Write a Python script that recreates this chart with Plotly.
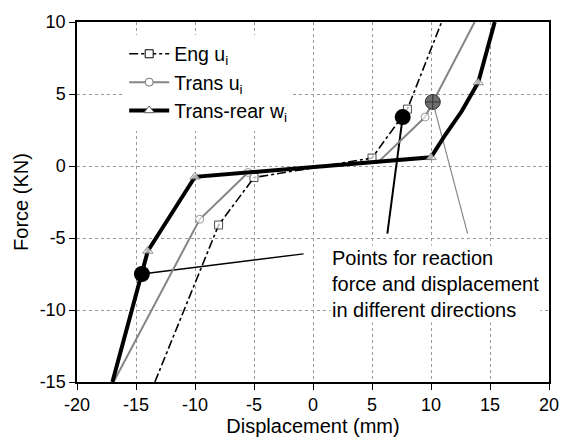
import plotly.graph_objects as go

# Data
eng_x = [-13.4, -8.0, -5.0, 5.0, 8.0, 10.9]
eng_y = [-15.0, -4.1, -0.8, 0.55, 3.95, 10.0]
eng_ms = [0, 8, 8, 8, 8, 0]

trans_x = [-16.9, -9.6, -5.5, 5.5, 9.5, 13.7]
trans_y = [-15.0, -3.7, -0.45, 0.25, 3.4, 10.0]
trans_ms = [0, 8, 8, 0, 8, 0]

rear_x = [-17.0, -14.0, -10.0, 10.0, 11.2, 12.6, 14.0, 14.6, 15.4]
rear_y = [-15.0, -5.9, -0.75, 0.6, 2.15, 3.8, 5.8, 7.6, 10.0]
rear_ms = [0, 9, 9, 9, 0, 0, 9, 0, 0]

# Reaction points
pts_x = [-14.5, 7.6]
pts_y = [-7.5, 3.4]
hatch_x = [10.15]
hatch_y = [4.45]

# Callout leader lines
lead1_x = [-14.5, -0.8]
lead1_y = [-7.5, -6.1]
lead2_x = [7.6, 6.3]
lead2_y = [3.4, -4.7]
lead3_x = [10.15, 13.1]
lead3_y = [4.45, -4.7]

x_ticks = [-20, -15, -10, -5, 0, 5, 10, 15, 20]
x_labels = ["-20", "-15", "-10", "-5", "0", "5", "10", "15", "20"]
y_ticks = [-15, -10, -5, 0, 5, 10]
y_labels = ["-15", "-10", "-5", "0", "5", "10"]

FONT = "Liberation Sans, Arial, sans-serif"

fig = go.Figure()

fig.add_trace(go.Scatter(x=lead1_x, y=lead1_y, mode="lines",
                         line=dict(color="black", width=1.4), showlegend=False))
fig.add_trace(go.Scatter(x=lead2_x, y=lead2_y, mode="lines",
                         line=dict(color="black", width=2), showlegend=False))
fig.add_trace(go.Scatter(x=lead3_x, y=lead3_y, mode="lines",
                         line=dict(color="#888888", width=1.2), showlegend=False))

fig.add_trace(go.Scatter(x=eng_x, y=eng_y, mode="lines+markers",
                         line=dict(color="black", width=1.6, dash="dashdot"),
                         marker=dict(symbol="square", size=eng_ms, color="white",
                                     line=dict(color="black", width=1)),
                         showlegend=False))
fig.add_trace(go.Scatter(x=trans_x, y=trans_y, mode="lines+markers",
                         line=dict(color="#858585", width=2),
                         marker=dict(symbol="circle", size=trans_ms, color="white",
                                     line=dict(color="#707070", width=1)),
                         showlegend=False))
fig.add_trace(go.Scatter(x=rear_x, y=rear_y, mode="lines+markers",
                         line=dict(color="black", width=4),
                         marker=dict(symbol="triangle-up", size=rear_ms, color="white",
                                     line=dict(color="#606060", width=1)),
                         showlegend=False))

# legend entries
fig.add_trace(go.Scatter(x=[None], y=[None], mode="lines+markers", name="Eng u<sub>i</sub>",
                         line=dict(color="black", width=1.6, dash="dashdot"),
                         marker=dict(symbol="square", size=8, color="white",
                                     line=dict(color="black", width=1))))
fig.add_trace(go.Scatter(x=[None], y=[None], mode="lines+markers", name="Trans u<sub>i</sub>",
                         line=dict(color="#858585", width=2),
                         marker=dict(symbol="circle", size=8, color="white",
                                     line=dict(color="#707070", width=1))))
fig.add_trace(go.Scatter(x=[None], y=[None], mode="lines+markers", name="Trans-rear w<sub>i</sub>",
                         line=dict(color="black", width=4),
                         marker=dict(symbol="triangle-up", size=9, color="white",
                                     line=dict(color="#606060", width=1))))

fig.add_trace(go.Scatter(x=pts_x, y=pts_y, mode="markers",
                         marker=dict(symbol="circle", size=16, color="black"),
                         showlegend=False))
fig.add_trace(go.Scatter(x=hatch_x, y=hatch_y, mode="markers",
                         marker=dict(symbol="circle-cross", size=15, color="#6e6e6e",
                                     line=dict(color="#333333", width=1)),
                         showlegend=False))

fig.add_annotation(x=1.4, y=-5.5, xref="x", yref="y", xanchor="left", yanchor="top",
                   text="Points for reaction<br>force and displacement<br>in different directions",
                   showarrow=False, align="left", bgcolor="white",
                   font=dict(family=FONT, size=20, color="black"))

axis_common = dict(showline=True, linecolor="black", linewidth=1.5, mirror=True,
                   ticks="outside", ticklen=6, tickcolor="black", tickwidth=1.2,
                   showgrid=True, gridcolor="#999999", griddash="dot", gridwidth=1,
                   zeroline=False,
                   tickfont=dict(family=FONT, size=18, color="black"))

fig.update_layout(
    width=571, height=445,
    margin=dict(l=77, r=16, t=22, b=63),
    plot_bgcolor="white", paper_bgcolor="white",
    font=dict(family=FONT, color="black"),
    xaxis=dict(range=[-20, 20], tickvals=x_ticks, ticktext=x_labels,
               title=dict(text="Displacement (mm)", font=dict(size=20), standoff=0),
               **axis_common),
    yaxis=dict(range=[-15, 10], tickvals=y_ticks, ticktext=y_labels,
               title=dict(text="Force (KN)", font=dict(size=20), standoff=6),
               **axis_common),
    legend=dict(x=0.1, y=0.965, xanchor="left", yanchor="top", bgcolor="white",
                font=dict(family=FONT, size=19.5, color="black"), tracegroupgap=0,
                itemwidth=40),
)

fig.write_html("out.html")
